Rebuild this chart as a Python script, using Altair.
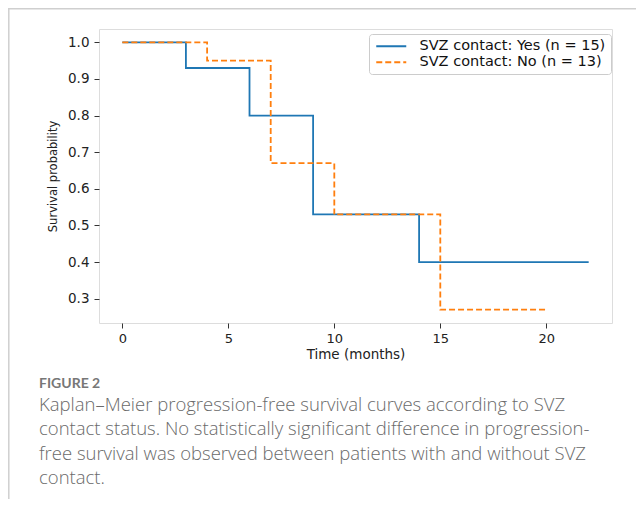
import altair as alt
import pandas as pd

# ---- data ----
yes_label = "SVZ contact: Yes (n = 15)"
no_label = "SVZ contact: No (n = 13)"
yes_time = [0, 3, 6, 9, 14, 22]
yes_surv = [1.0, 0.93, 0.80, 0.53, 0.40, 0.40]
no_time = [0, 4, 7, 10, 15, 20]
no_surv = [1.0, 0.95, 0.67, 0.53, 0.27, 0.27]
x_ticks = [0, 5, 10, 15, 20]
y_ticks = [0.3, 0.4, 0.5, 0.6, 0.7, 0.8, 0.9, 1.0]
caption_head = "FIGURE 2"
caption_lines = [
    "Kaplan\u2013Meier progression-free survival curves according to SVZ",
    "contact status. No statistically significant difference in progression-",
    "free survival was observed between patients with and without SVZ",
    "contact.",
]

df = pd.DataFrame({
    "time": yes_time + no_time,
    "surv": yes_surv + no_surv,
    "group": [yes_label] * len(yes_time) + [no_label] * len(no_time),
})

W, H = 513, 294
TICK_FONT = "DejaVu Sans"

color_scale = alt.Scale(domain=[yes_label, no_label], range=["#1f77b4", "#ff7f0e"])
dash_scale = alt.Scale(domain=[yes_label, no_label], range=[[1, 0], [6, 3]])

x_enc = alt.X(
    "time:Q",
    scale=alt.Scale(domain=[-1.1, 23.1], nice=False, zero=False),
    axis=alt.Axis(values=x_ticks, title="Time (months)", format="d",
                  labelFont=TICK_FONT, labelFontSize=13, labelColor="#222",
                  titleFont=TICK_FONT, titleFontSize=13.5, titleFontWeight="normal",
                  titleColor="#222", titlePadding=2, labelPadding=4,
                  tickSize=5, tickColor="#333", grid=False, domain=False),
)
y_enc = alt.Y(
    "surv:Q",
    scale=alt.Scale(domain=[0.2335, 1.0365], nice=False, zero=False),
    axis=alt.Axis(values=y_ticks, title="Survival probability", format=".1f",
                  labelFont=TICK_FONT, labelFontSize=13.5, labelColor="#222",
                  titleFont=TICK_FONT, titleFontSize=11.5, titleFontWeight="normal",
                  titleColor="#222", titlePadding=9, labelPadding=5,
                  tickSize=5, tickColor="#333", grid=False, domain=False),
)
legend = alt.Legend(
    title=None, orient="none", legendX=270, legendY=5, direction="vertical",
    symbolType="M-1,0H5", symbolSize=100, symbolStrokeWidth=1.8,
    labelFont=TICK_FONT, labelFontSize=14.5, labelColor="#111", labelLimit=400,
    labelOffset=31, strokeColor="#cccccc", fillColor="white", padding=5,
    cornerRadius=3, rowPadding=1,
)

base = alt.Chart(df).encode(
    x=x_enc, y=y_enc,
    color=alt.Color("group:N", scale=color_scale, legend=legend, sort=[yes_label, no_label]),
    strokeDash=alt.StrokeDash("group:N", scale=dash_scale, legend=legend, sort=[yes_label, no_label]),
)

line_yes = base.transform_filter(alt.datum.group == yes_label).mark_line(
    interpolate="step-after", strokeWidth=1.8)
line_no = base.transform_filter(alt.datum.group == no_label).mark_line(
    interpolate="step-after", strokeWidth=1.8)

one = pd.DataFrame({"k": [0]})
frame_left = alt.Chart(one).mark_rule(color="#cfcfcf", strokeWidth=1.5).encode(
    x=alt.value(-90.2), y=alt.value(-21), y2=alt.value(H + 176))
frame_top = alt.Chart(one).mark_rule(color="#cfcfcf", strokeWidth=1.5).encode(
    x=alt.value(-91), x2=alt.value(W + 24), y=alt.value(-20.2))

head = alt.Chart(one).mark_text(
    text=caption_head, align="left", baseline="alphabetic", font="Lato",
    fontSize=14, fontWeight="bold", color="#777777").encode(
    x=alt.value(-60), y=alt.value(359))
caption = alt.Chart(one).mark_text(
    text=caption_lines, align="left", baseline="alphabetic", font="Open Sans",
    fontSize=18.5, fontWeight=300, color="#6a6a6a", lineHeight=24.6).encode(
    x=alt.value(-60), y=alt.value(381.5))

chart = alt.layer(line_yes, line_no, frame_left, frame_top, head, caption).properties(
    width=W, height=H,
    autosize=alt.AutoSizeParams(type="none"),
    padding={"left": 91, "top": 21, "right": 24, "bottom": 176},
).configure_view(stroke="#333333", strokeWidth=1.2).configure(background="white")

chart.save("out.html", embed_options={"renderer": "svg", "actions": False})
